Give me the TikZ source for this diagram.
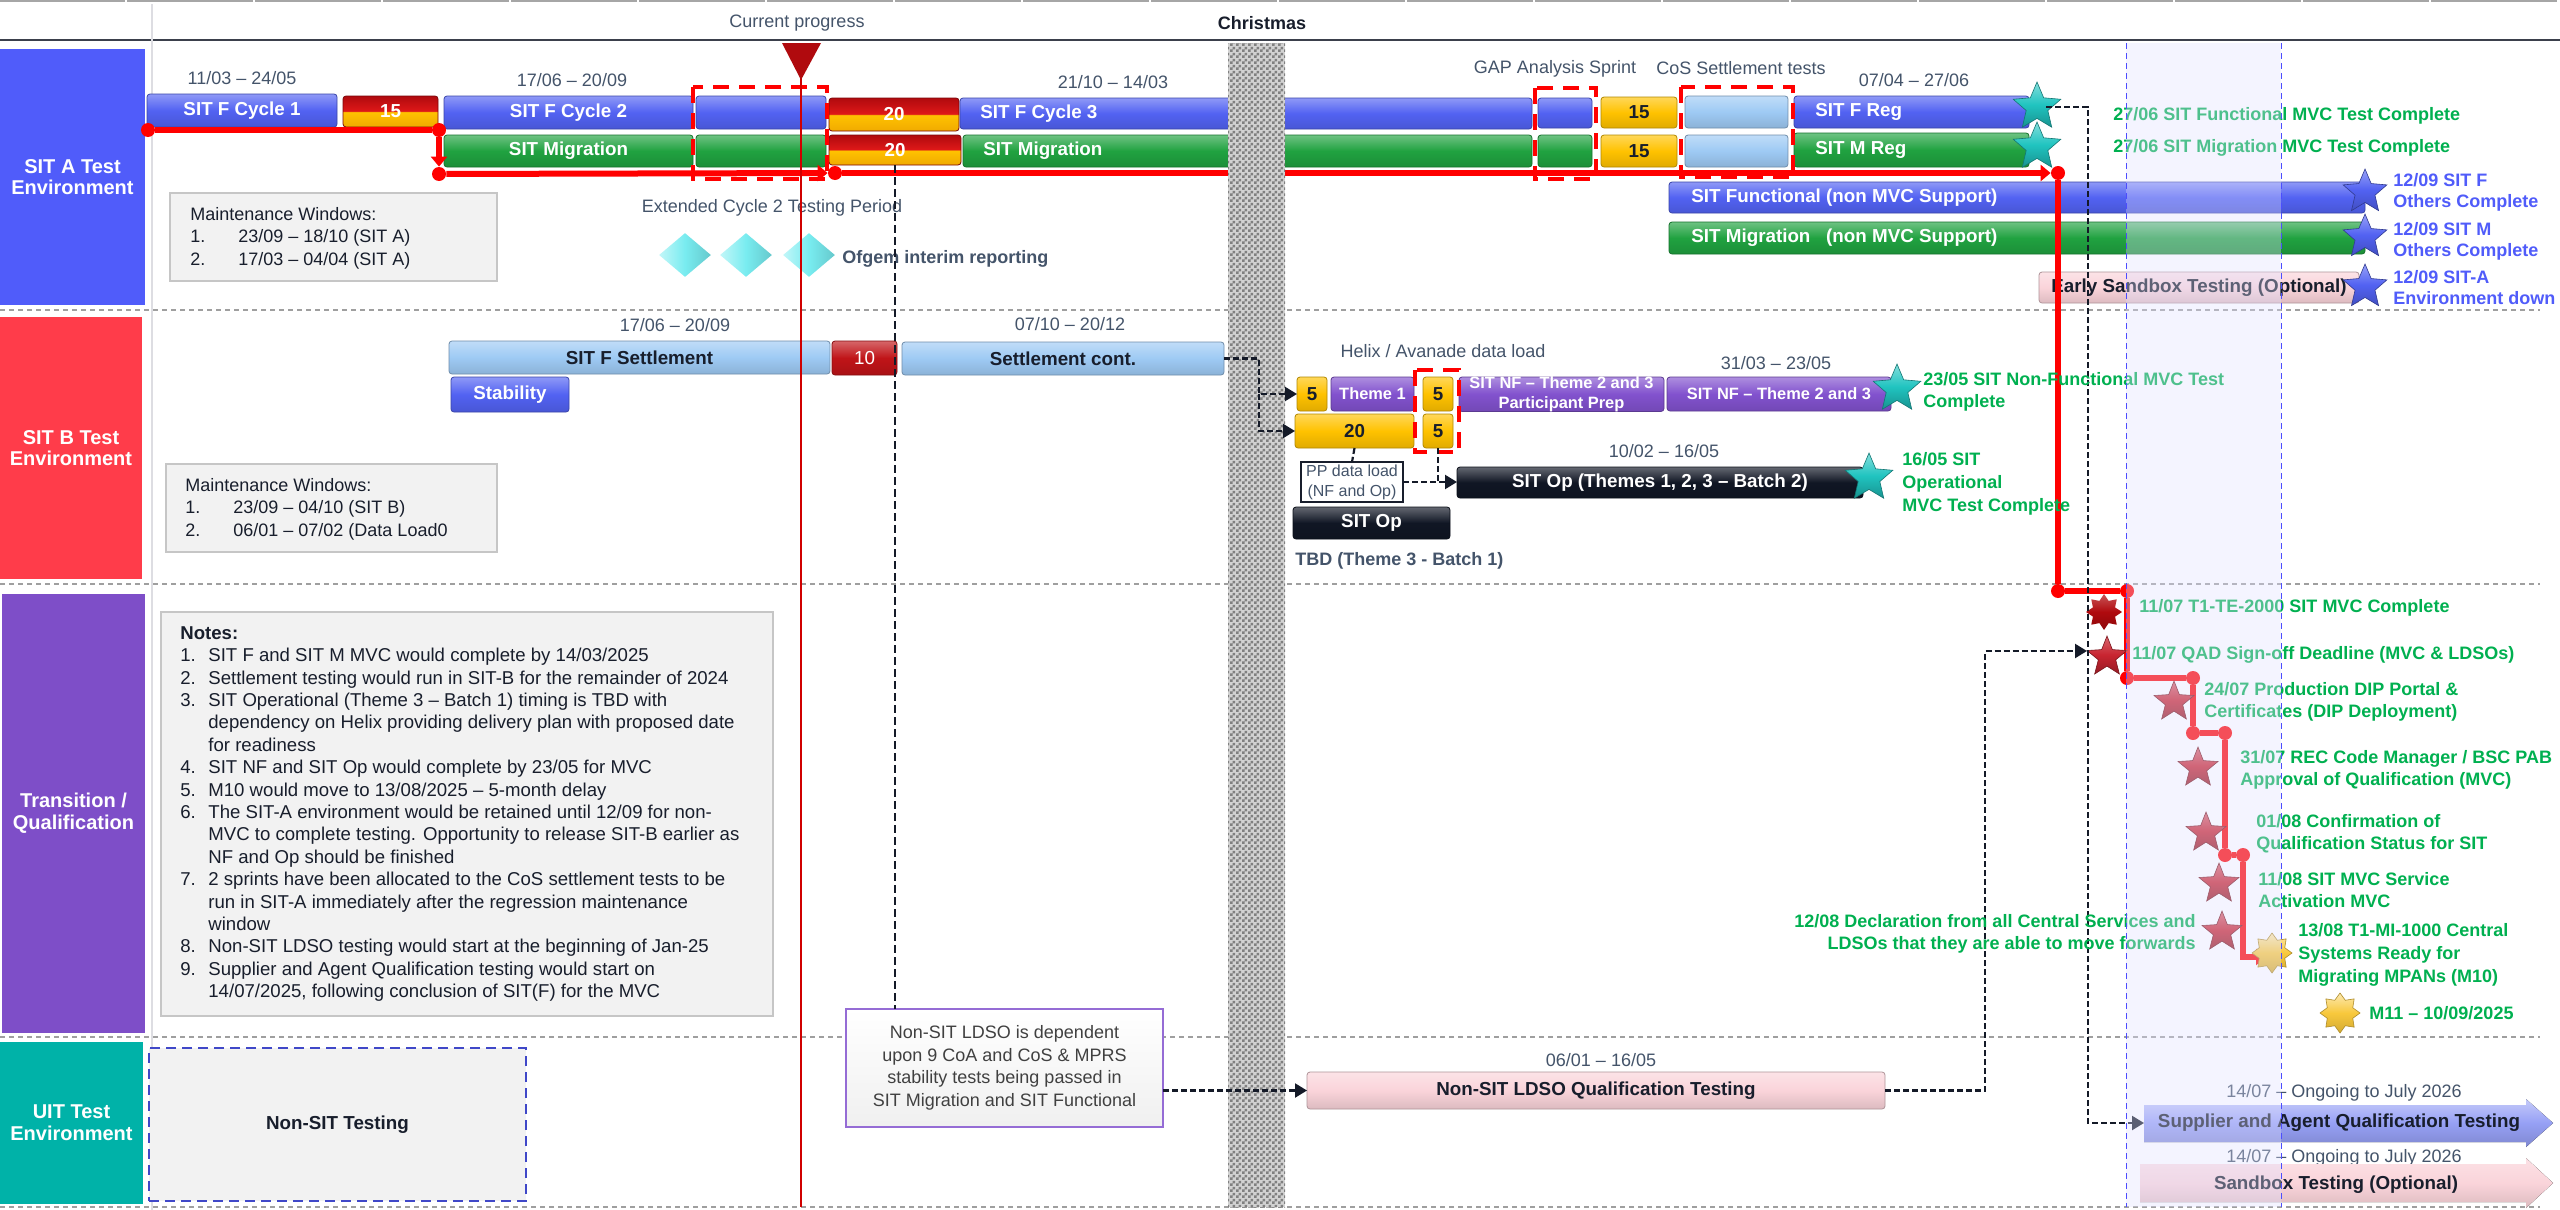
\documentclass[tikz,border=0pt]{standalone}
\usepackage{fontspec}
\setmainfont{Liberation Sans}
\usetikzlibrary{shapes.geometric,arrows.meta,patterns,calc}
\definecolor{cBlue}{RGB}{82,98,242}
\definecolor{cGreen}{RGB}{32,162,64}
\definecolor{cLBlue}{RGB}{158,202,244}
\definecolor{cYel}{RGB}{255,194,0}
\definecolor{cYelD}{RGB}{240,170,0}
\definecolor{cRedT}{RGB}{222,24,24}
\definecolor{cRedD}{RGB}{176,10,14}
\definecolor{cDRed}{RGB}{192,20,24}
\definecolor{cPurp}{RGB}{130,82,206}
\definecolor{cBlk}{RGB}{16,22,36}
\definecolor{cPink}{RGB}{250,212,218}
\definecolor{cSup}{RGB}{150,160,245}
\definecolor{laneA}{RGB}{80,92,250}
\definecolor{laneB}{RGB}{255,60,74}
\definecolor{laneT}{RGB}{126,78,200}
\definecolor{laneU}{RGB}{0,178,168}
\definecolor{txtG}{RGB}{0,176,80}
\definecolor{txtD}{RGB}{68,84,106}
\definecolor{txtBlue}{RGB}{80,92,250}
\definecolor{cDark}{RGB}{24,30,44}
\definecolor{cTeal}{RGB}{32,196,192}
\definecolor{cStarR}{RGB}{200,36,48}
\definecolor{cGold}{RGB}{248,200,60}
\definecolor{cCyan}{RGB}{120,236,240}
\definecolor{cBand}{RGB}{224,224,255}
\definecolor{cCrit}{RGB}{255,0,0}
\definecolor{cDash}{RGB}{20,26,40}
\definecolor{cProg}{RGB}{208,0,0}
\definecolor{cNsit}{RGB}{64,72,200}
\pgfdeclareverticalshading{redyel}{100bp}{color(0bp)=(cYelD); color(25bp)=(cYelD); color(49bp)=(cYel); color(51bp)=(cRedT); color(75bp)=(cRedD); color(100bp)=(cRedD)}
\pgfdeclarepatternformonly{finecheck}{\pgfpointorigin}{\pgfqpoint{3pt}{3pt}}{\pgfqpoint{3pt}{3pt}}{%
  \pgfpathrectangle{\pgfpointorigin}{\pgfqpoint{1.5pt}{1.5pt}}%
  \pgfpathrectangle{\pgfqpoint{1.5pt}{1.5pt}}{\pgfqpoint{1.5pt}{1.5pt}}%
  \pgfusepath{fill}}
\newcommand\mkbar[7]{%
  \pgfmathsetmacro\barW{(#4-#2)/2}%
  \pgfmathsetmacro\barH{(#5-#3)/2}%
  \node[#6, anchor=north west, minimum width=\barW pt, minimum height=\barH pt, inner sep=0pt, outer sep=0pt] (#1) at (#2,#3) {#7};}
\newcommand\nitem[1]{\makebox[14pt][l]{#1}}
\newcommand\ncont{\hspace*{14pt}}
\newcommand\mitem[1]{\makebox[24pt][l]{#1}}
\begin{document}
\begin{tikzpicture}[x=0.5pt,y=-0.5pt,
  every node/.style={font=\fontsize{9}{11}\selectfont, inner sep=0pt},
  bar/.style={rounded corners=1.5pt, draw=#1!70!black, line width=0.4pt, top color=#1!65!white, bottom color=#1!88!black, middle color=#1},
  ryb/.style={shading=redyel, draw=cRedD!70!black, line width=0.4pt, rounded corners=1.5pt},
  wt/.style={text=white, font=\bfseries\fontsize{9.4}{11}\selectfont, align=center},
  dk/.style={text=cDark, font=\bfseries\fontsize{9.4}{11}\selectfont, align=center},
  pt/.style={text=white, font=\bfseries\fontsize{8.2}{9.6}\selectfont, align=center},
  lane/.style={text=white, font=\bfseries\fontsize{10}{10.8}\selectfont, align=center},
  dt/.style={text=txtD},
  gt/.style={text=txtG, font=\bfseries\fontsize{9}{11.2}\selectfont, align=left, anchor=west},
  bt/.style={text=txtBlue, font=\bfseries\fontsize{9}{10.5}\selectfont, align=left, anchor=west},
  sep/.style={draw=gray!75, line width=0.6pt, dash pattern=on 2.5pt off 2pt},
  mbox/.style={fill=gray!10, draw=gray!45, line width=1.2pt},
  rdash/.style={draw=red, line width=2pt, dash pattern=on 8pt off 5pt},
  crit/.style={draw=cCrit, line width=3pt},
  critdot/.style={circle, fill=cCrit, minimum size=7pt, inner sep=0pt},
  conn/.style={draw=cDash, line width=1.1pt, dash pattern=on 3pt off 1.5pt, -{Triangle[length=6pt,width=7pt]}},
  connl/.style={draw=cDash, line width=1.1pt, dash pattern=on 3pt off 1.5pt},
  vdash/.style={draw=cDash, line width=0.8pt, dash pattern=on 4pt off 2pt},
  tstar/.style={star, star points=5, star point ratio=2.2, minimum size=25pt, inner sep=0pt, top color=cTeal!55!white, bottom color=cTeal!75!black, middle color=cTeal, draw=cTeal!60!black, line width=0.3pt},
  bstar/.style={star, star points=5, star point ratio=2.2, minimum size=23pt, inner sep=0pt, top color=cBlue!60!white, bottom color=cBlue!80!black, middle color=cBlue, draw=cBlue!60!black, line width=0.3pt},
  rstar/.style={star, star points=5, star point ratio=2.3, minimum size=21pt, inner sep=0pt, top color=cStarR!70!white, bottom color=cStarR!75!black, middle color=cStarR, draw=cStarR!60!black, line width=0.3pt},
  rburst/.style={star, star points=8, star point ratio=1.5, minimum size=18pt, inner sep=0pt, top color=cRedD!70!white, bottom color=cRedD!80!black, middle color=cRedD},
  gburst/.style={star, star points=8, star point ratio=1.45, minimum size=20pt, inner sep=0pt, top color=cGold!40!white, bottom color=cGold!85!black, middle color=cGold, draw=cGold!70!black, line width=0.3pt},
  dia/.style={diamond, minimum width=26pt, minimum height=22pt, inner sep=0pt, left color=cCyan!45!white, right color=cCyan!85!black, middle color=cCyan}
]
\useasboundingbox (0,0) rectangle (2560,1210);
\fill[white] (0,0) rectangle (2560,1210);

% header
\foreach \k in {0,...,19} \draw[gray!70, line width=1.2pt] ({\k*128-1},1) -- ({\k*128+125},1);
\draw[cDark!85, line width=0.8pt] (0,40) -- (2560,40);
\draw[blue!8!gray!25, line width=1pt] (152,4) -- (152,1210);
\node[dt] (curp) at (797,23) {Current progress};
\node[font=\bfseries\fontsize{9}{11}\selectfont, text=cDark] (xmas) at (1262,23) {Christmas};

% lanes
\draw[sep] (0,310) -- (2540,310);
\draw[sep] (0,584) -- (2540,584);
\draw[sep] (0,1037) -- (2540,1037);
\draw[sep] (0,1207) -- (2540,1207);
\mkbar{laneA}{0}{49}{145}{305}{lane, fill=laneA}{SIT A Test\\Environment}
\mkbar{laneB}{0}{317}{142}{579}{lane, fill=laneB}{SIT B Test\\Environment}
\mkbar{laneT}{2}{594}{145}{1033}{lane, fill=laneT}{Transition /\\Qualification}
\mkbar{laneU}{0}{1042}{143}{1204}{lane, fill=laneU}{UIT Test\\Environment}

% ---- SIT A
\node[dt] (dA1) at (242,78) {11/03 – 24/05};
\node[dt] (dA2) at (572,80) {17/06 – 20/09};
\node[dt] (dA3) at (1113,82) {21/10 – 14/03};
\node[dt] (gapl) at (1555,69) {GAP Analysis Sprint};
\node[dt] (cosl) at (1741,68) {CoS Settlement tests};
\node[dt] (dA4) at (1914,80) {07/04 – 27/06};

\mkbar{cyc1}{147}{94}{337}{127}{bar=cBlue,wt}{SIT F Cycle 1}
\mkbar{gA15}{343}{96}{438}{127}{ryb,wt}{15}
\mkbar{cyc2}{444}{96}{693}{129}{bar=cBlue,wt}{SIT F Cycle 2}
\mkbar{cyc2x}{696}{96}{826}{129}{bar=cBlue}{}
\mkbar{mig2}{444}{135}{693}{167}{bar=cGreen,wt}{SIT Migration}
\mkbar{mig2x}{696}{135}{826}{167}{bar=cGreen}{}
\mkbar{gA20}{829}{98}{959}{131}{ryb,wt}{20}
\mkbar{gB20}{829}{135}{961}{165}{ryb,wt}{20}
\mkbar{cyc3}{960}{98}{1532}{129}{bar=cBlue}{}
\mkbar{mig3}{963}{135}{1532}{167}{bar=cGreen}{}
\node[wt, anchor=west] (cyc3t) at ([xshift=10pt]cyc3.west) {SIT F Cycle 3};
\node[wt, anchor=west] (mig3t) at ([xshift=10pt]mig3.west) {SIT Migration};
\mkbar{gapF}{1538}{98}{1592}{128}{bar=cBlue}{}
\mkbar{gapM}{1538}{135}{1592}{167}{bar=cGreen}{}
\mkbar{yF15}{1601}{97}{1677}{128}{bar=cYel,dk}{15}
\mkbar{yM15}{1601}{135}{1677}{167}{bar=cYel,dk}{15}
\mkbar{cosF}{1685}{96}{1788}{128}{bar=cLBlue}{}
\mkbar{cosM}{1685}{135}{1788}{167}{bar=cLBlue}{}
\mkbar{regF}{1794}{96}{2029}{128}{bar=cBlue}{}
\mkbar{regM}{1794}{133}{2029}{167}{bar=cGreen}{}
\node[wt, anchor=west] (regFt) at ([xshift=10.5pt]regF.west) {SIT F Reg};
\node[wt, anchor=west] (regMt) at ([xshift=10.5pt]regM.west) {SIT M Reg};
\mkbar{nmvcF}{1669}{182}{2365}{213}{bar=cBlue}{}
\mkbar{nmvcM}{1669}{222}{2365}{254}{bar=cGreen}{}
\node[wt, anchor=west] (nmvcFt) at ([xshift=11pt]nmvcF.west) {SIT Functional (non MVC Support)};
\node[wt, anchor=west] (nmvcMt) at ([xshift=11pt]nmvcM.west) {SIT Migration\ \ \ (non MVC Support)};
\mkbar{esb}{2039}{272}{2359}{303}{bar=cPink,dk}{Early Sandbox Testing (Optional)}

\mkbar{mwA}{170}{193}{497}{281}{mbox}{}
\node[anchor=north west, align=left, text=cDark, font=\fontsize{9}{11.25}\selectfont] (mwAt) at (190,207) {Maintenance Windows:\\\mitem{1.}23/09 – 18/10 (SIT A)\\\mitem{2.}17/03 – 04/04 (SIT A)};

\node[dt] (ext) at (772,208) {Extended Cycle 2 Testing Period};
\node[dia] (dm1) at (685,255) {};
\node[dia] (dm2) at (746,255) {};
\node[dia] (dm3) at (809,255) {};
\node[dt, anchor=west, font=\bfseries\fontsize{9}{11}\selectfont] (ofg) at (842,259) {Ofgem interim reporting};

% ---- SIT B
\node[dt] (dB1) at (675,325) {17/06 – 20/09};
\node[dt] (dB2) at (1070,324) {07/10 – 20/12};
\node[dt] (helix) at (1443,351) {Helix / Avanade data load};
\node[dt] (dB3) at (1776,363) {31/03 – 23/05};
\node[dt] (dB4) at (1664,451) {10/02 – 16/05};
\mkbar{sfs}{449}{341}{830}{374}{bar=cLBlue,dk}{SIT F Settlement}
\mkbar{r10}{832}{341}{897}{375}{bar=cDRed,text=white,font=\fontsize{9.4}{11}\selectfont}{10}
\mkbar{stab}{451}{377}{569}{412}{bar=cBlue,wt}{Stability}
\mkbar{scont}{902}{342}{1224}{375}{bar=cLBlue,dk}{Settlement cont.}
\mkbar{y5a}{1297}{377}{1327}{411}{bar=cYel,dk}{5}
\mkbar{th1}{1331}{377}{1414}{411}{bar=cPurp,pt}{Theme 1}
\mkbar{y5b}{1423}{377}{1453}{411}{bar=cYel,dk}{5}
\mkbar{nfp}{1459}{377}{1664}{411}{bar=cPurp,pt}{SIT NF – Theme 2 and 3\\Participant Prep}
\mkbar{nf23}{1667}{377}{1891}{411}{bar=cPurp,pt}{SIT NF – Theme 2 and 3}
\mkbar{y20}{1295}{414}{1414}{448}{bar=cYel,dk}{20}
\mkbar{y5c}{1423}{414}{1453}{448}{bar=cYel,dk}{5}
\mkbar{pp}{1301}{462}{1403}{502}{fill=white, draw=cDark, line width=1pt, text=txtD, align=center, font=\fontsize{8}{10}\selectfont}{PP data load\\(NF and Op)}
\mkbar{sop2}{1457}{467}{1863}{498}{bar=cBlk,wt}{SIT Op (Themes 1, 2, 3 – Batch 2)}
\mkbar{sop}{1293}{507}{1450}{539}{bar=cBlk,wt}{SIT Op}
\node[dt, anchor=west, font=\bfseries\fontsize{9}{11}\selectfont] (tbd) at (1295,561) {TBD (Theme 3 - Batch 1)};
\mkbar{mwB}{166}{464}{497}{552}{mbox}{}
\node[anchor=north west, align=left, text=cDark, font=\fontsize{9}{11.25}\selectfont] (mwBt) at (185,478) {Maintenance Windows:\\\mitem{1.}23/09 – 04/10 (SIT B)\\\mitem{2.}06/01 – 07/02 (Data Load0};

% ---- Transition notes
\mkbar{notes}{161}{612}{773}{1016}{mbox}{}
\node[anchor=north west, align=left, text=cDark, font=\fontsize{9.3}{11.2}\selectfont] (notest) at (180,626) {\textbf{Notes:}\\
\nitem{1.}SIT F and SIT M MVC would complete by 14/03/2025\\
\nitem{2.}Settlement testing would run in SIT-B for the remainder of 2024\\
\nitem{3.}SIT Operational (Theme 3 – Batch 1) timing is TBD with\\
\ncont dependency on Helix providing delivery plan with proposed date\\
\ncont for readiness\\
\nitem{4.}SIT NF and SIT Op would complete by 23/05 for MVC\\
\nitem{5.}M10 would move to 13/08/2025 – 5-month delay\\
\nitem{6.}The SIT-A environment would be retained until 12/09 for non-\\
\ncont MVC to complete testing. Opportunity to release SIT-B earlier as\\
\ncont NF and Op should be finished\\
\nitem{7.}2 sprints have been allocated to the CoS settlement tests to be\\
\ncont run in SIT-A immediately after the regression maintenance\\
\ncont window\\
\nitem{8.}Non-SIT LDSO testing would start at the beginning of Jan-25\\
\nitem{9.}Supplier and Agent Qualification testing would start on\\
\ncont 14/07/2025, following conclusion of SIT(F) for the MVC};

% ---- UIT
\mkbar{nsit}{149}{1048}{526}{1201}{fill=gray!10, draw=cNsit, line width=1.3pt, dash pattern=on 5pt off 3pt, dk}{Non-SIT Testing}
\mkbar{note}{846}{1009}{1163}{1127}{top color=white, bottom color=gray!12, draw=cPurp!85, line width=1.2pt, text=black!75, align=center, font=\fontsize{9}{11.25}\selectfont}{Non-SIT LDSO is dependent\\upon 9 CoA and CoS \& MPRS\\stability tests being passed in\\SIT Migration and SIT Functional}
\node[dt] (dU1) at (1601,1060) {06/01 – 16/05};
\mkbar{ldso}{1307}{1072}{1885}{1109}{bar=cPink,dk}{Non-SIT LDSO Qualification Testing}
\node[dt] (dU2) at (2344,1093) {14/07 – Ongoing to July 2026};
\node[dt] (dU3) at (2344,1158) {14/07 – Ongoing to July 2026};
\fill[top color=cSup!55!white, bottom color=cSup!85!black, middle color=cSup] (2144,1105) -- (2526,1105) -- (2526,1099) -- (2553,1123) -- (2526,1147) -- (2526,1142) -- (2144,1142) -- cycle;
\node[dk] (supp) at (2339,1123) {Supplier and Agent Qualification Testing};
\coordinate (suppL) at (2144,1123);
\fill[top color=cPink!70!white, bottom color=cPink!88!black, middle color=cPink] (2140,1164) -- (2526,1164) -- (2526,1158) -- (2553,1183) -- (2526,1208) -- (2526,1202) -- (2140,1202) -- cycle;
\node[dk] (sandb) at (2336,1185) {Sandbox Testing (Optional)};

% ---- critical path
\node[critdot] (d1) at (148,130) {};
\node[critdot] (d2) at (439,130) {};
\node[critdot] (d3) at (439,174) {};
\node[critdot] (d4) at (835,173) {};
\node[critdot] (d5) at (2058,173) {};
\node[critdot] (d6) at (2058,591) {};
\node[critdot] (d7) at (2127,591) {};
\node[critdot] (d8) at (2127,678) {};
\node[critdot] (d9) at (2193,678) {};
\node[critdot] (d10) at (2193,733) {};
\node[critdot] (d11) at (2225,733) {};
\node[critdot] (d12) at (2225,855) {};
\node[critdot] (d13) at (2243,855) {};
\coordinate (cend) at (2266,957);
\draw[crit] (d1) -- (d2);
\draw[crit,-{Triangle[length=5pt,width=8pt]}] (d2) -- (d3);
\draw[crit,-{Triangle[length=5pt,width=8pt]}] (d3) -- (d4);
\draw[crit,-{Triangle[length=5pt,width=8pt]}] (d4) -- (d5);
\draw[crit] (d5) -- (d6);
\draw[crit] (d6) -- (d7);
\draw[crit] (d7) -- (d8);
\draw[crit] (d8) -- (d9);
\draw[crit] (d9) -- (d10);
\draw[crit] (d10) -- (d11);
\draw[crit] (d11) -- (d12);
\draw[crit] (d12) -- (d13);
\draw[crit,-{Triangle[length=5pt,width=8pt]}] (d13) |- (cend);

% red dashed groups
\draw[rdash] (693,87) rectangle (827,179);
\draw[rdash] (1535,88) rectangle (1596,179);
\draw[rdash] (1681,87) rectangle (1793,177);
\draw[rdash] (1415,370) rectangle (1459,452);

% Christmas column
\fill[gray!35] (1228,43) rectangle (1285,1207);
\fill[pattern=finecheck, pattern color=gray] (1228,43) rectangle (1285,1207);

% stars
\node[tstar] (tsF) at (2037,107) {};
\node[tstar] (tsM) at (2037,147) {};
\node[tstar] (tsNF) at (1897,389) {};
\node[tstar] (tsOp) at (1869,478) {};
\node[bstar] (bsF) at (2365,192) {};
\node[bstar] (bsM) at (2365,237) {};
\node[bstar] (bsA) at (2365,287) {};
\node[rburst] (rb1) at (2104,612) {};
\node[rstar] (qad) at (2107,657) {};
\node[rstar] (s24) at (2174,702) {};
\node[rstar] (s31) at (2198,768) {};
\node[rstar] (s01) at (2206,833) {};
\node[rstar] (s11) at (2219,884) {};
\node[rstar] (s12) at (2222,932) {};
\node[gburst] (m10) at (2272,953) {};
\node[gburst] (m11) at (2340,1013) {};

% connectors
\draw[vdash] (gB20.south) -- (gB20.south |- note.north);
\draw[conn] (scont.east) -| ([xshift=-19pt]y5a.west) -- (y5a.west);
\draw[conn] ([xshift=-19pt]y5a.west) |- (y20.west);
\draw[connl] (y20.south) -- (pp.north);
\draw[connl] (y5c.south) -- (y5c.south |- pp.east);
\draw[conn] (pp.east) -- (pp.east -| sop2.west);
\draw[conn] (note.east |- ldso.west) -- (ldso.west);
\coordinate (qadin) at (2087,651);
\draw[conn] (ldso.east) -| ([xshift=-51pt]qadin) -- (qadin);
\draw[conn] ([xshift=-3pt]tsF.east) -| ([xshift=-28pt]suppL) -- (suppL);

% texts
\node[gt] (g1) at (2113,116) {27/06 SIT Functional MVC Test Complete};
\node[gt] (g2) at (2113,148) {27/06 SIT Migration MVC Test Complete};
\node[gt] (g3) at (1923,392) {23/05 SIT Non-Functional MVC Test\\Complete};
\node[gt, font=\bfseries\fontsize{9}{11.4}\selectfont] (g4) at (1902,484) {16/05 SIT\\Operational\\MVC Test Complete};
\node[gt] (g5) at (2139,608) {11/07 T1-TE-2000 SIT MVC Complete};
\node[gt] (g6) at (2132,655) {11/07 QAD Sign-off Deadline (MVC \& LDSOs)};
\node[gt] (g7) at (2204,702) {24/07 Production DIP Portal \&\\Certificates (DIP Deployment)};
\node[gt] (g8) at (2240,770) {31/07 REC Code Manager / BSC PAB\\Approval of Qualification (MVC)};
\node[gt] (g9) at (2256,834) {01/08 Confirmation of\\Qualification Status for SIT};
\node[gt] (g10) at (2258,890) {11/08 SIT MVC Service\\Activation MVC};
\node[gt, anchor=east, align=right] (g11) at (2196,934) {12/08 Declaration from all Central Services and\\LDSOs that they are able to move forwards};
\node[gt, font=\bfseries\fontsize{9}{11.6}\selectfont] (g12) at (2298,955) {13/08 T1-MI-1000 Central\\Systems Ready for\\Migrating MPANs (M10)};
\node[gt] (g13) at (2369,1013) {M11 – 10/09/2025};
\node[bt] (b1) at (2393,192) {12/09 SIT F\\Others Complete};
\node[bt] (b2) at (2393,241) {12/09 SIT M\\Others Complete};
\node[bt] (b3) at (2393,288) {12/09 SIT-A\\Environment down};

% transparent band
\fill[cBand, opacity=0.35] (2126,43) rectangle (2281,1207);
\draw[blue!70, line width=0.5pt, dash pattern=on 3pt off 2pt] (2126,43) -- (2126,1207);
\draw[blue!70, line width=0.5pt, dash pattern=on 3pt off 2pt] (2281,43) -- (2281,1207);

% current progress
\draw[cProg, line width=1pt] (801,60) -- (801,1207);
\fill[cRedD] (782,43) -- (821,43) -- (801,80) -- cycle;
\end{tikzpicture}
\end{document}
